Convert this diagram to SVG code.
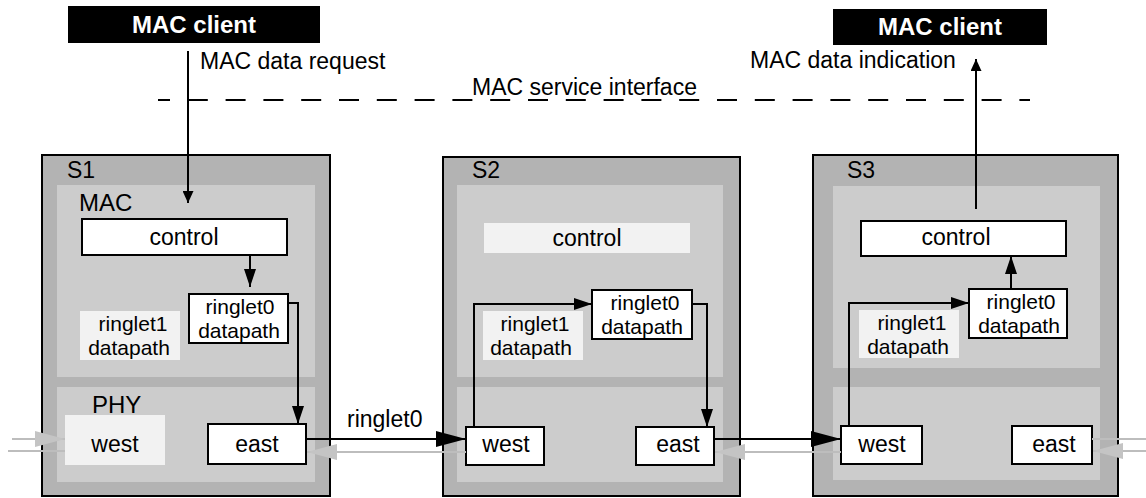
<svg xmlns="http://www.w3.org/2000/svg" width="1146" height="498" viewBox="0 0 1146 498">
  <style>
    text { font-family: "Liberation Sans", Arial, sans-serif; font-size: 23px; fill: #000; }
    .mid { text-anchor: middle; }
    .two { font-size: 21px; }
    .client-box { fill: #000; }
    .client-text { font-weight: bold; font-size: 24px; fill: #fff; text-anchor: middle; }
    .station { fill: #b3b3b3; stroke: #000; stroke-width: 2; }
    .panel { fill: #cccccc; }
    .box { fill: #fff; stroke: #000; stroke-width: 2; }
    .ghost { fill: #f2f2f2; }
    .layer { font-size: 24px; }
    .link { fill: none; stroke: #000; stroke-width: 2; }
    .back { fill: none; stroke: #bdbdbd; stroke-width: 2; }
    .iface { fill: none; stroke: #000; stroke-width: 2; stroke-dasharray: 20 17.8; stroke-dashoffset: 8; }
  </style>
  <defs>
    <marker id="arrS" markerUnits="userSpaceOnUse" markerWidth="12" markerHeight="11" refX="12" refY="5.5" orient="auto">
      <path d="M0,0 L12,5.5 L0,11 z" fill="#000"/>
    </marker>
    <marker id="arrM" markerUnits="userSpaceOnUse" markerWidth="18" markerHeight="12" refX="18" refY="6" orient="auto">
      <path d="M0,0 L18,6 L0,12 z" fill="#000"/>
    </marker>
    <marker id="arrL" markerUnits="userSpaceOnUse" markerWidth="30" markerHeight="16" refX="30" refY="8" orient="auto">
      <path d="M0,0 L30,8 L0,16 z" fill="#000"/>
    </marker>
    <marker id="arrG" markerUnits="userSpaceOnUse" markerWidth="30" markerHeight="16" refX="30" refY="8" orient="auto">
      <path d="M0,0 L30,8 L0,16 z" fill="#c4c4c4"/>
    </marker>
  </defs>

  <!-- MAC clients -->
  <g id="client-left">
    <rect class="client-box" x="68" y="6" width="252" height="37"/>
    <text class="client-text" x="194" y="33">MAC client</text>
  </g>
  <g id="client-right">
    <rect class="client-box" x="833" y="9" width="214" height="36"/>
    <text class="client-text" x="940" y="35">MAC client</text>
  </g>

  <!-- service interface -->
  <g id="service-interface">
    <path class="iface" d="M158,100 H1030"/>
    <text x="472" y="95">MAC service interface</text>
    <text x="200" y="69">MAC data request</text>
    <text x="750" y="68">MAC data indication</text>
  </g>

  <!-- Station S1 -->
  <g id="S1">
    <rect class="station" x="42" y="155" width="288" height="341"/>
    <rect class="panel" x="57" y="185" width="258" height="192"/>
    <rect class="panel" x="57" y="387" width="258" height="95"/>
    <text x="67" y="178">S1</text>
    <text class="layer" x="79" y="211">MAC</text>
    <text class="layer" x="92" y="413">PHY</text>
    <g id="S1-control">
      <rect class="box" x="82" y="219" width="205" height="36"/>
      <text class="mid" x="184" y="245">control</text>
    </g>
    <g id="S1-ringlet0">
      <rect class="box" x="189" y="294" width="99" height="49"/>
      <text class="mid two"><tspan x="240" y="314">ringlet0</tspan><tspan x="239" y="338">datapath</tspan></text>
    </g>
    <g id="S1-ringlet1">
      <rect class="ghost" x="80" y="311" width="100" height="49"/>
      <text class="mid two"><tspan x="133" y="331">ringlet1</tspan><tspan x="129" y="355">datapath</tspan></text>
    </g>
    <g id="S1-west">
      <rect class="ghost" x="65" y="415" width="100" height="50"/>
      <text class="mid" x="115" y="452">west</text>
    </g>
    <g id="S1-east">
      <rect class="box" x="208" y="424" width="98" height="40"/>
      <text class="mid" x="257" y="452">east</text>
    </g>
  </g>

  <!-- Station S2 -->
  <g id="S2">
    <rect class="station" x="443" y="157" width="297" height="339"/>
    <rect class="panel" x="457" y="185" width="266" height="192"/>
    <rect class="panel" x="457" y="387" width="266" height="95"/>
    <text x="472" y="178">S2</text>
    <g id="S2-control">
      <rect class="ghost" x="484" y="223" width="206" height="30"/>
      <text class="mid" x="587" y="246">control</text>
    </g>
    <g id="S2-ringlet0">
      <rect class="box" x="592" y="290" width="100" height="49"/>
      <text class="mid two"><tspan x="645" y="310">ringlet0</tspan><tspan x="642" y="334">datapath</tspan></text>
    </g>
    <g id="S2-ringlet1">
      <rect class="ghost" x="483" y="311" width="100" height="49"/>
      <text class="mid two"><tspan x="535" y="331">ringlet1</tspan><tspan x="531" y="355">datapath</tspan></text>
    </g>
    <g id="S2-west">
      <rect class="box" x="466" y="427" width="78" height="38"/>
      <text class="mid" x="506" y="452">west</text>
    </g>
    <g id="S2-east">
      <rect class="box" x="636" y="427" width="78" height="38"/>
      <text class="mid" x="678" y="452">east</text>
    </g>
  </g>

  <!-- Station S3 -->
  <g id="S3">
    <rect class="station" x="813" y="155" width="305" height="341"/>
    <rect class="panel" x="833" y="186" width="267" height="182"/>
    <rect class="panel" x="833" y="387" width="267" height="93"/>
    <text x="847" y="178">S3</text>
    <g id="S3-control">
      <rect class="box" x="861" y="221" width="205" height="35"/>
      <text class="mid" x="956" y="245">control</text>
    </g>
    <g id="S3-ringlet0">
      <rect class="box" x="969" y="289" width="98" height="49"/>
      <text class="mid two"><tspan x="1021" y="309">ringlet0</tspan><tspan x="1019" y="333">datapath</tspan></text>
    </g>
    <g id="S3-ringlet1">
      <rect class="ghost" x="859" y="310" width="100" height="48"/>
      <text class="mid two"><tspan x="912" y="330">ringlet1</tspan><tspan x="908" y="354">datapath</tspan></text>
    </g>
    <g id="S3-west">
      <rect class="box" x="841" y="426" width="81" height="38"/>
      <text class="mid" x="882" y="452">west</text>
    </g>
    <g id="S3-east">
      <rect class="box" x="1012" y="426" width="80" height="38"/>
      <text class="mid" x="1054" y="452">east</text>
    </g>
  </g>

  <!-- Connectors -->
  <g id="connectors">
    <!-- ringlet1 (grey, westbound) -->
    <path class="back" d="M12,439 H65" marker-end="url(#arrG)"/>
    <path class="back" d="M65,451 H8"/>
    <path class="back" d="M466,452 H307" marker-end="url(#arrG)"/>
    <path class="back" d="M841,452 H715" marker-end="url(#arrG)"/>
    <path class="back" d="M1092,439 H1146"/>
    <path class="back" d="M1146,451 H1093" marker-end="url(#arrG)"/>

    <!-- client request / indication -->
    <path class="link" d="M188,51 V203" marker-end="url(#arrS)"/>
    <path class="link" d="M976,209 V59" marker-end="url(#arrS)"/>

    <!-- S1 -->
    <path class="link" d="M250,255 V287" marker-end="url(#arrM)"/>
    <path class="link" d="M288,303 H298 V424" marker-end="url(#arrM)"/>

    <!-- ringlet0 hops -->
    <path class="link" d="M306,439 H466" marker-end="url(#arrL)"/>
    <text x="347" y="427">ringlet0</text>
    <path class="link" d="M714,439 H841" marker-end="url(#arrL)"/>

    <!-- S2 -->
    <path class="link" d="M474,427 V304 H592" marker-end="url(#arrM)"/>
    <path class="link" d="M692,304 H707 V427" marker-end="url(#arrM)"/>

    <!-- S3 -->
    <path class="link" d="M849,426 V303 H969" marker-end="url(#arrM)"/>
    <path class="link" d="M1011,289 V256" marker-end="url(#arrM)"/>
  </g>
</svg>
